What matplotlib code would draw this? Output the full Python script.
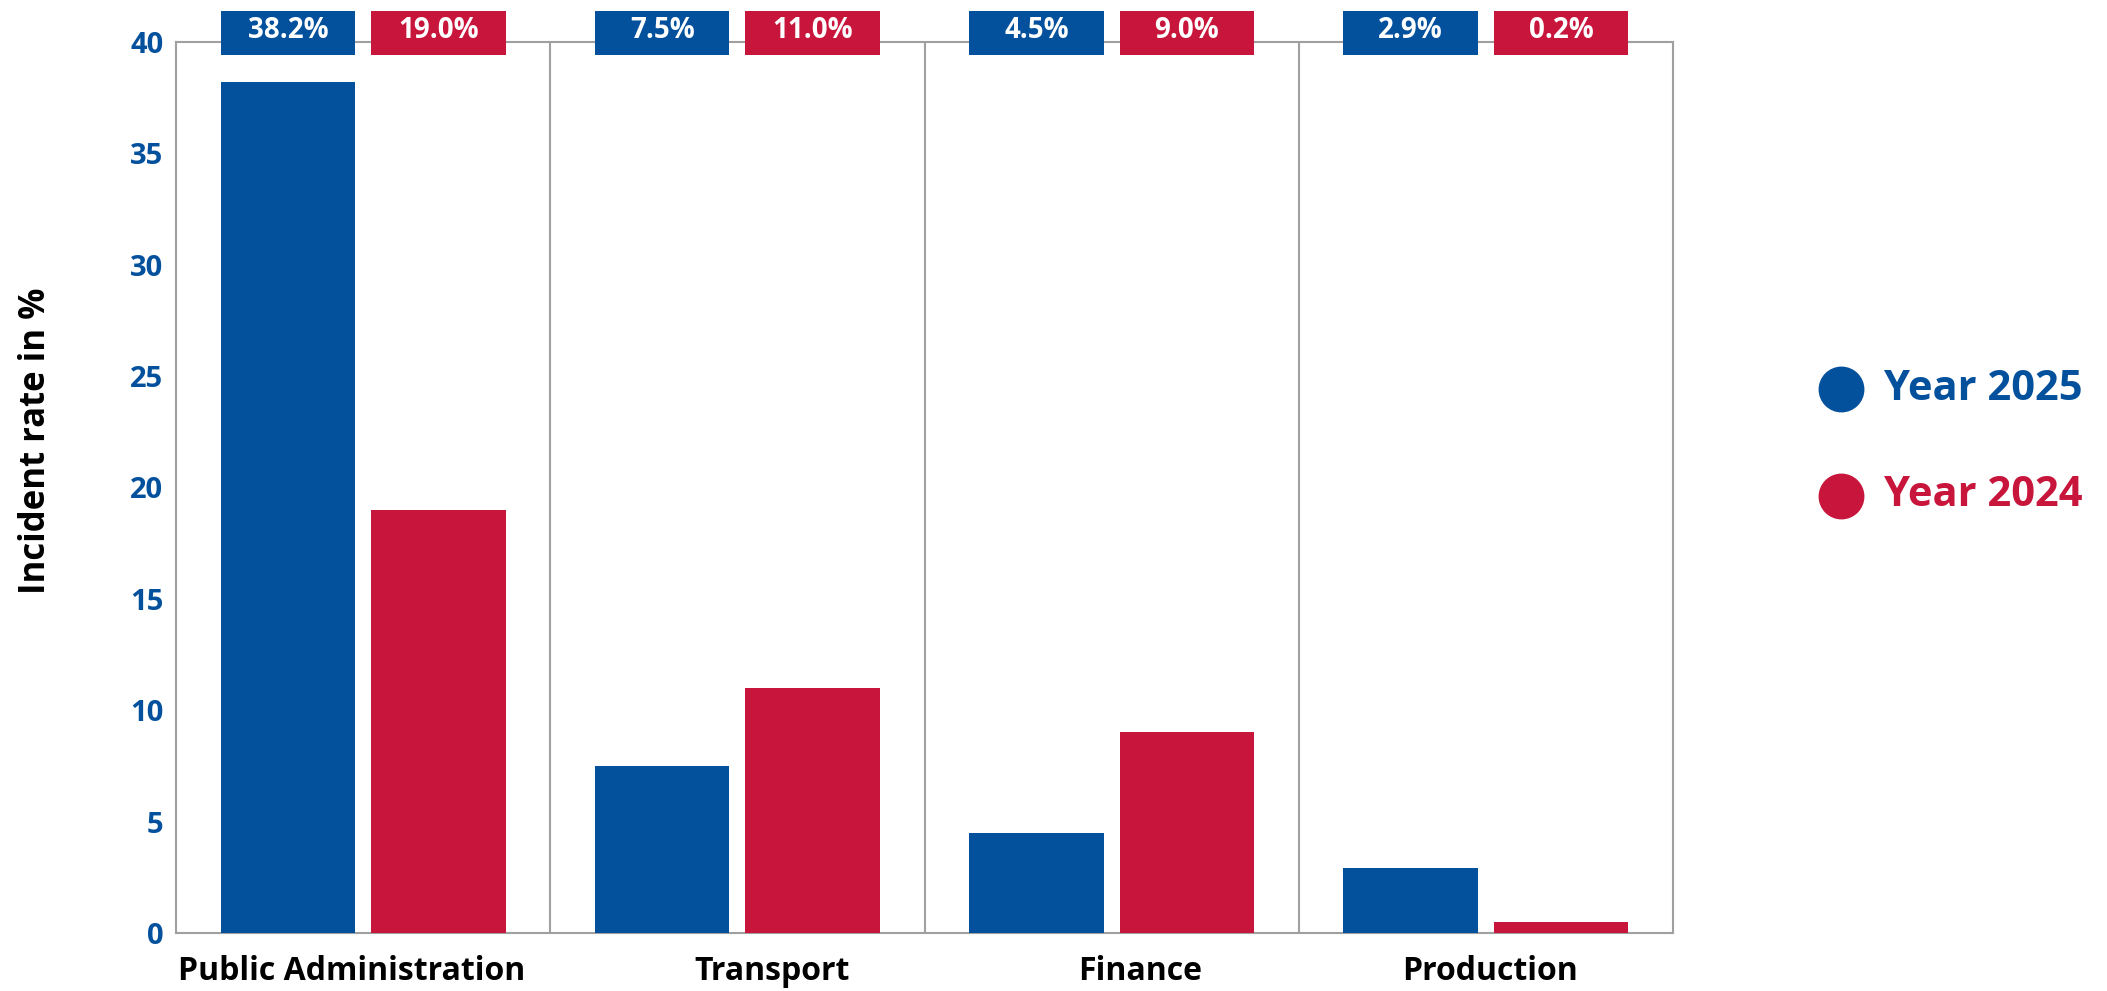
import numpy as np
import matplotlib
matplotlib.use("Agg")
import matplotlib.pyplot as plt
from matplotlib.patches import Rectangle
from matplotlib.transforms import blended_transform_factory

plt.rcParams['font.family'] = ['Open Sans', 'DejaVu Sans']

categories = ["Public Administration", "Transport", "Finance", "Production"]
year_2025 = [38.2, 7.5, 4.5, 2.9]
year_2024 = [19.0, 11.0, 9.0, 0.2]
series_names = ["Year 2025", "Year 2024"]
yticks = [0, 5, 10, 15, 20, 25, 30, 35, 40]

BLUE = "#03509C"
RED = "#C8153B"
GRID = "#a0a0a0"

W, H = 2107, 991
fig = plt.figure(figsize=(W / 100, H / 100), dpi=100)
left, right, top, bottom = 176, 1673, 41.7, 933
ax = fig.add_axes([left / W, 1 - bottom / H, (right - left) / W, (bottom - top) / H])

x = np.arange(len(categories))
bw = 0.359
off = 0.201
min_h = 0.5
h25 = [max(v, min_h) for v in year_2025]
h24 = [max(v, min_h) for v in year_2024]
ax.bar(x - off, h25, width=bw, color=BLUE, zorder=3)
ax.bar(x + off, h24, width=bw, color=RED, zorder=3)

ax.set_xlim(-0.5, len(categories) - 0.5)
ax.set_ylim(0, 40)

for s in ax.spines.values():
    s.set_color(GRID)
    s.set_linewidth(1.5)
for b in x[:-1] + 0.5:
    ax.axvline(b, color=GRID, lw=1.5, zorder=1)

ax.set_yticks(yticks)
ax.set_yticklabels([str(t) for t in yticks], color=BLUE, fontsize=21, fontweight='bold')
ax.tick_params(axis='y', length=0, pad=9)
ax.set_xticks([])

# value boxes on top
tr = blended_transform_factory(ax.transData, ax.transAxes)
ybot, ytop = 0.985, 1.0348
for vals, sign, col in [(year_2025, -1, BLUE), (year_2024, 1, RED)]:
    for i, v in enumerate(vals):
        cx = i + sign * off
        ax.add_patch(Rectangle((cx - bw / 2, ybot), bw, ytop - ybot, transform=tr,
                               facecolor=col, edgecolor='none', clip_on=False, zorder=5))
        ax.text(cx, (ybot + ytop) / 2 + 0.003, f"{v:.1f}%", transform=tr, ha='center', va='center',
                color='white', fontsize=20, fontweight='bold', zorder=6, clip_on=False)

# category labels
label_offsets = [-0.032, 0.092, 0.077, 0.011]
for i, (c, o) in enumerate(zip(categories, label_offsets)):
    ax.text(i + o, -0.043, c, transform=tr, ha='center', va='center',
            fontsize=23, fontweight='bold', color='black')

fig.text(36 / W, 1 - 441 / H, "Incident rate in %", rotation=90, ha='center', va='center',
         fontsize=25, fontweight='bold', color='black')

# legend
for name, col, yy in [(series_names[0], BLUE, 389), (series_names[1], RED, 496)]:
    fig.add_artist(plt.Line2D([1841 / W], [1 - yy / H], marker='o', markersize=32,
                              color=col, linestyle='none', transform=fig.transFigure))
    fig.text(1884 / W, 1 - yy / H, name, ha='left', va='center', fontsize=30,
             fontweight='bold', color=col)

fig.savefig("out.png", dpi=100)
